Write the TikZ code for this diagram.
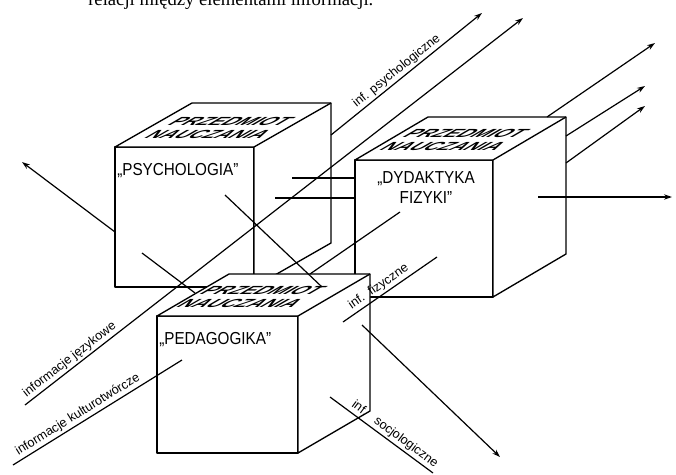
\documentclass[tikz,border=0pt]{standalone}
\usepackage{fontspec}
\setmainfont{Liberation Serif}
\newfontfamily\labelfont[FakeStretch=0.88]{Liberation Sans}
\newfontfamily\handfont{Liberation Sans}
\usetikzlibrary{arrows.meta}

\begin{document}
\begin{tikzpicture}[x=0.75pt,y=-0.75pt,
        >={Stealth[open,length=6pt,width=4pt]},
        flow/.style={line width=0.9pt},
        face/.style={draw,fill=white,line width=1pt,line join=round},
        subj/.style={font=\labelfont\fontsize{13}{15}\selectfont,inner sep=0pt,align=center},
        topic/.style={font=\labelfont\bfseries\fontsize{8}{9}\selectfont,inner sep=0pt,align=center,
            cm={2.1,0,1.9,1.1,(0,0)},transform shape},
        info/.style={font=\handfont\fontsize{9.5}{10}\selectfont,inner sep=1.5pt,sloped,above}]
        \clip (0,0) rectangle (676,475);
        \node[anchor=base west,inner sep=0pt,font=\fontsize{14}{16}\selectfont] (zdanie) at (88,5) {relacji między elementami informacji.};

        % psychologia
        \filldraw[face] (115,147) rectangle (254,287);
        \filldraw[face] (115,147) -- (192,103) -- (331,103) -- (331,243) -- (254,287) -- (254,147) -- cycle;
        \draw[face] (254,147) -- (331,103);
        \node[subj,anchor=west] (psy) at (117,171) {„PSYCHOLOGIA”};
        \node[topic] (psytop) at (220,128) {PRZEDMIOT\\NAUCZANIA};

        % dydaktyka fizyki
        \filldraw[face] (355,160) rectangle (493,297);
        \filldraw[face] (355,160) -- (428,117) -- (566,117) -- (566,254) -- (493,297) -- (493,160) -- cycle;
        \draw[face] (493,160) -- (566,117);
        \node[subj] (dyd) at (426,188) {„DYDAKTYKA\\FIZYKI”};
        \node[topic] (dydtop) at (455,140) {PRZEDMIOT\\NAUCZANIA};

        % pedagogika
        \filldraw[face] (157,316) rectangle (298,453);
        \filldraw[face] (157,316) -- (229,274) -- (370,274) -- (370,411) -- (298,453) -- (298,316) -- cycle;
        \draw[face] (298,316) -- (370,274);
        \node[subj,anchor=west] (ped) at (159,340) {„PEDAGOGIKA”};
        \node[topic] (pedtop) at (252,297) {PRZEDMIOT\\NAUCZANIA};

        % punkty linii
        \coordinate (lewyA) at (115,232);
        \coordinate (lewyB) at (22,162);
        \coordinate (lewyC) at (142,253);
        \coordinate (lewyD) at (195,293);
        \coordinate (skosA) at (225,195);
        \coordinate (skosB) at (322,287);
        \coordinate (skosC) at (362,325);
        \coordinate (skosD) at (500,457);
        \coordinate (jezA) at (25,405);
        \coordinate (jezB) at (523,18);
        \coordinate (kultA) at (13,465);
        \coordinate (kultB) at (182,360);
        \coordinate (psyA) at (331,135);
        \coordinate (psyB) at (482,13);
        \coordinate (poz1A) at (292,178);
        \coordinate (poz1B) at (355,178);
        \coordinate (poz2A) at (275,198);
        \coordinate (poz2B) at (355,198);
        \coordinate (wyjA) at (538,197);
        \coordinate (wyjB) at (672,197);
        \coordinate (gora1A) at (547,117);
        \coordinate (gora1B) at (655,43);
        \coordinate (gora2A) at (566,136);
        \coordinate (gora2B) at (645,86);
        \coordinate (gora3A) at (566,163);
        \coordinate (gora3B) at (645,106);
        \coordinate (midA) at (310,274);
        \coordinate (midB) at (400,212);
        \coordinate (fizA) at (343,322);
        \coordinate (fizB) at (437,257);
        \coordinate (socA) at (330,397);
        \coordinate (socB) at (433,473);

        \draw[flow,->] (lewyA) -- (lewyB);
        \draw[flow] (lewyC) -- (lewyD);
        \draw[flow] (skosA) -- (skosB);
        \draw[flow,->] (skosC) -- (skosD);
        \draw[flow,->] (jezA) -- (jezB) node[info,pos=0.1] (jezlab) {informacje językowe};
        \draw[flow] (kultA) -- (kultB) node[info,pos=0.41] (kultlab) {informacje kulturotwórcze};
        \draw[flow,->] (psyA) -- (psyB) node[info,pos=0.47] (psylab) {inf. psychologiczne};
        \draw[flow] (poz1A) -- (poz1B);
        \draw[flow] (poz2A) -- (poz2B);
        \draw[flow,->] (wyjA) -- (wyjB);
        \draw[flow,->] (gora1A) -- (gora1B);
        \draw[flow,->] (gora2A) -- (gora2B);
        \draw[flow,->] (gora3A) -- (gora3B);
        \draw[flow] (midA) -- (midB);
        \draw[flow] (fizA) -- (fizB) node[info,pos=0.43] (fizlab) {inf.\ \ fizyczne};
        \draw[flow] (socA) -- (socB) node[info,pos=0.58] (soclab) {inf.\ \ \ socjologiczne};
    \end{tikzpicture}
\end{document}
